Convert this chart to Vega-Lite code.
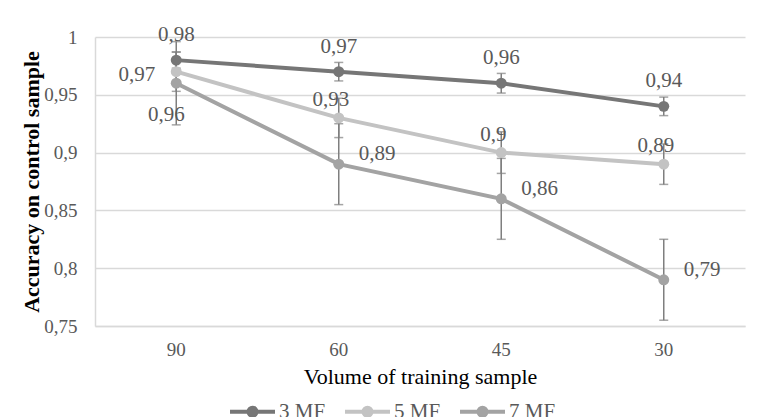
{
  "$schema": "https://vega.github.io/schema/vega-lite/v6.json",
  "width": 650,
  "height": 289,
  "autosize": {"type": "none"},
  "padding": {"left": 95, "top": 37, "right": 18, "bottom": 91},
  "background": "#ffffff",
  "config": {
    "locale": {"number": {"decimal": ",", "thousands": " ", "grouping": [3], "currency": ["", ""]}},
    "font": "Liberation Serif, serif",
    "text": {"font": "Liberation Serif, serif"},
    "axis": {"labelFont": "Liberation Serif, serif", "titleFont": "Liberation Serif, serif"},
    "legend": {"labelFont": "Liberation Serif, serif"},
    "view": {"stroke": null}
  },
  "data": {
    "values": [
      {"s": "3 MF", "x": 90, "y": 0.98, "err": 0.007},
      {"s": "3 MF", "x": 60, "y": 0.97, "err": 0.008},
      {"s": "3 MF", "x": 45, "y": 0.96, "err": 0.0085},
      {"s": "3 MF", "x": 30, "y": 0.94, "err": 0.008},
      {"s": "5 MF", "x": 90, "y": 0.97, "err": 0.017},
      {"s": "5 MF", "x": 60, "y": 0.93, "err": 0.017},
      {"s": "5 MF", "x": 45, "y": 0.9, "err": 0.018},
      {"s": "5 MF", "x": 30, "y": 0.89, "err": 0.0175},
      {"s": "7 MF", "x": 90, "y": 0.96, "err": 0.036},
      {"s": "7 MF", "x": 60, "y": 0.89, "err": 0.035},
      {"s": "7 MF", "x": 45, "y": 0.86, "err": 0.035},
      {"s": "7 MF", "x": 30, "y": 0.79, "err": 0.035}
    ]
  },
  "encoding": {
    "x": {
      "field": "x", "type": "ordinal", "sort": "descending",
      "axis": {
        "title": "Volume of training sample", "labelAngle": 0,
        "labelFont": "Liberation Serif, serif", "titleFont": "Liberation Serif, serif",
        "labelFontSize": 19, "labelColor": "#595959", "labelPadding": 14,
        "ticks": false, "domain": true, "domainColor": "#d9d9d9", "domainWidth": 1.5, "grid": false,
        "titleFontSize": 22, "titleFontWeight": "normal", "titleColor": "#000000", "titlePadding": 7
      }
    },
    "y": {
      "field": "y", "type": "quantitative",
      "scale": {"domain": [0.75, 1], "nice": false, "zero": false},
      "axis": {
        "title": "Accuracy on control sample",
        "values": [0.75, 0.8, 0.85, 0.9, 0.95, 1], "format": "~g",
        "labelFont": "Liberation Serif, serif", "titleFont": "Liberation Serif, serif",
        "labelFontSize": 19, "labelColor": "#595959", "labelPadding": 18,
        "ticks": false, "domain": true, "domainColor": "#d9d9d9", "domainWidth": 1.5,
        "grid": true, "gridColor": "#d9d9d9", "gridWidth": 1.5,
        "titleFontSize": 22, "titleFontWeight": "bold", "titleColor": "#000000", "titlePadding": 0
      }
    }
  },
  "layer": [
    {
      "mark": {"type": "line", "strokeWidth": 4},
      "encoding": {
        "color": {
          "field": "s", "type": "nominal",
          "scale": {"domain": ["3 MF", "5 MF", "7 MF"], "range": ["#767676", "#c3c3c3", "#a3a3a3"]},
          "legend": {
            "title": null, "orient": "none", "legendX": 133, "legendY": 350, "direction": "horizontal",
            "symbolType": "M-1,0L1,0M-0.18,0A0.18,0.18,0,1,0,0.18,0A0.18,0.18,0,1,0,-0.18,0M-0.07,0A0.07,0.07,0,1,0,0.07,0A0.07,0.07,0,1,0,-0.07,0",
            "symbolSize": 2025, "symbolStrokeWidth": 4,
            "labelFont": "Liberation Serif, serif",
            "labelFontSize": 21, "labelColor": "#595959", "labelOffset": 2, "columnPadding": 11
          }
        }
      }
    },
    {
      "mark": {"type": "errorbar", "ticks": {"size": 9, "thickness": 1.5}, "rule": {"strokeWidth": 1.5}},
      "encoding": {
        "yError": {"field": "err"},
        "color": {"value": "#7f7f7f"}
      }
    },
    {
      "mark": {"type": "point", "filled": true, "size": 120, "opacity": 1},
      "encoding": {
        "fill": {
          "field": "s", "type": "nominal",
          "scale": {"domain": ["3 MF", "5 MF", "7 MF"], "range": ["#767676", "#c3c3c3", "#a3a3a3"]},
          "legend": null
        }
      }
    },
    {
      "transform": [{"filter": "datum.s == '3 MF'"}],
      "mark": {"type": "text", "font": "Liberation Serif, serif", "fontSize": 21, "color": "#595959", "dy": -25, "align": "center"},
      "encoding": {"text": {"field": "y", "type": "quantitative", "format": ".2~f"}}
    },
    {
      "transform": [{"filter": "datum.s == '5 MF' && datum.x == 90"}],
      "mark": {"type": "text", "font": "Liberation Serif, serif", "fontSize": 21, "color": "#595959", "dx": -21, "dy": 3, "align": "right"},
      "encoding": {"text": {"field": "y", "type": "quantitative", "format": ".2~f"}}
    },
    {
      "transform": [{"filter": "datum.s == '5 MF' && datum.x != 90"}],
      "mark": {"type": "text", "font": "Liberation Serif, serif", "fontSize": 21, "color": "#595959", "dx": -8, "dy": -18, "align": "center"},
      "encoding": {"text": {"field": "y", "type": "quantitative", "format": ".2~f"}}
    },
    {
      "transform": [{"filter": "datum.s == '7 MF' && datum.x == 90"}],
      "mark": {"type": "text", "font": "Liberation Serif, serif", "fontSize": 21, "color": "#595959", "dx": -10, "dy": 32, "align": "center"},
      "encoding": {"text": {"field": "y", "type": "quantitative", "format": ".2~f"}}
    },
    {
      "transform": [{"filter": "datum.s == '7 MF' && datum.x != 90"}],
      "mark": {"type": "text", "font": "Liberation Serif, serif", "fontSize": 21, "color": "#595959", "dx": 20, "dy": -10, "align": "left"},
      "encoding": {"text": {"field": "y", "type": "quantitative", "format": ".2~f"}}
    }
  ]
}
